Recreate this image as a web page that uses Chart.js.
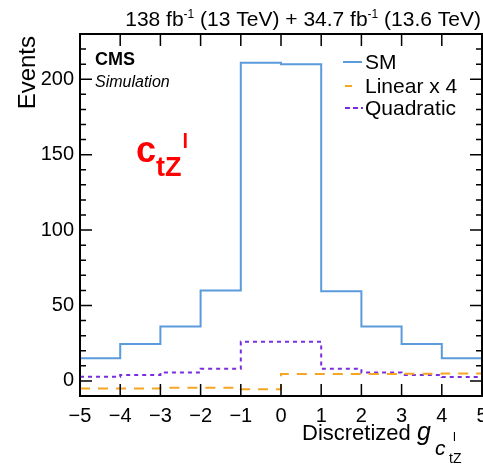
<!DOCTYPE html>
<html>
<head>
<meta charset="utf-8">
<script src="https://cdn.jsdelivr.net/npm/chart.js@4"></script>
<style>
  html, body { margin: 0; padding: 0; background: #fff; }
  #wrap { width: 483px; height: 464px; }
</style>
</head>
<body>
<div id="wrap"><canvas id="histCanvas" width="483" height="464"></canvas></div>
<script>
// bin edges of discretized g and per-bin event yields
var binEdges = [-5, -4, -3, -2, -1, 0, 1, 2, 3, 4, 5];
var smYields = [15, 24.5, 36, 60, 211, 210, 59.5, 36, 24.5, 15];
var linearYields = [-5, -5, -4.6, -4.6, -5.5, 4.6, 4.6, 4.6, 4.8, 5];
var quadYields = [2.8, 4, 5.5, 8, 26, 26, 8, 5.5, 4, 2.6];
var seriesNames = ['SM', 'Linear x 4', 'Quadratic'];
var yLabelTicks = [0, 50, 100, 150, 200];

var FONT = "'Liberation Sans', Arial, sans-serif";

// histogram -> step points at the left edges (last bin repeated at the right edge)
var toSteps = function(vals) {
  return binEdges.map(function(x, i) {
    return { x: x, y: vals[Math.min(i, vals.length - 1)] };
  });
};

var drawRich = function(ctx, parts, x, y, align) {
  var total = 0;
  parts.forEach(function(p) { ctx.font = p.font; total += ctx.measureText(p.t).width + (p.dx || 0); });
  var cx = align === 'right' ? x - total : x;
  ctx.textAlign = 'left';
  ctx.textBaseline = 'alphabetic';
  parts.forEach(function(p) {
    ctx.font = p.font;
    ctx.fillStyle = p.color || '#000';
    ctx.fillText(p.t, cx + (p.dx || 0), y + (p.dy || 0));
    cx += ctx.measureText(p.t).width + (p.dx || 0);
  });
};

var cmsDecor = {
  id: 'cmsDecor',
  afterDraw: function(chart) {
    var ctx = chart.ctx;
    var a = chart.chartArea;
    var xs = chart.scales.x, ys = chart.scales.y;
    ctx.save();

    // inward ticks on all four sides
    ctx.strokeStyle = '#000';
    ctx.lineWidth = 1.5;
    ys.ticks.forEach(function(t) {
      var py = ys.getPixelForValue(t.value);
      if (py <= a.top + 1 || py >= a.bottom - 1) return;
      var len = (t.value % 50 === 0) ? 12 : 6;
      ctx.beginPath();
      ctx.moveTo(a.left, py); ctx.lineTo(a.left + len, py);
      ctx.moveTo(a.right, py); ctx.lineTo(a.right - len, py);
      ctx.stroke();
    });
    xs.ticks.forEach(function(t) {
      var px = xs.getPixelForValue(t.value);
      if (px <= a.left + 1 || px >= a.right - 1) return;
      ctx.beginPath();
      ctx.moveTo(px, a.bottom); ctx.lineTo(px, a.bottom - 12);
      ctx.moveTo(px, a.top); ctx.lineTo(px, a.top + 12);
      ctx.stroke();
    });

    // frame
    ctx.lineWidth = 2;
    ctx.strokeRect(a.left, a.top, a.right - a.left, a.bottom - a.top);

    // header
    var hf = '21px ' + FONT, sf = '12px ' + FONT;
    drawRich(ctx, [
      { t: '138 fb', font: hf },
      { t: '-1', font: sf, dy: -8 },
      { t: ' (13 TeV) + 34.7 fb', font: hf },
      { t: '-1', font: sf, dy: -8 },
      { t: ' (13.6 TeV)', font: hf }
    ], 481, 26, 'right');

    // CMS label
    ctx.fillStyle = '#000';
    ctx.textAlign = 'left';
    ctx.font = 'bold 18px ' + FONT;
    ctx.fillText('CMS', 95, 65);
    ctx.font = 'italic 16px ' + FONT;
    ctx.fillText('Simulation', 95, 87);

    // red coupling label
    drawRich(ctx, [
      { t: 'c', font: 'bold 36px ' + FONT, color: '#ff0000' },
      { t: 'tZ', font: 'bold 27px ' + FONT, color: '#ff0000', dy: 14 },
      { t: 'l', font: 'bold 20px ' + FONT, color: '#ff0000', dy: -14, dx: 1 }
    ], 136, 162, 'left');

    // axis titles
    ctx.save();
    ctx.translate(35, 36);
    ctx.rotate(-Math.PI / 2);
    ctx.textAlign = 'right';
    ctx.font = '24px ' + FONT;
    ctx.fillStyle = '#000';
    ctx.fillText('Events', 0, 0);
    ctx.restore();

    ctx.fillStyle = '#000';
    ctx.textAlign = 'left';
    ctx.textBaseline = 'alphabetic';
    ctx.font = '22px ' + FONT;
    ctx.fillText('Discretized', 302, 440);
    ctx.font = 'italic 25px ' + FONT;
    ctx.fillText('g', 417, 440);
    ctx.font = 'italic 21px ' + FONT;
    ctx.fillText('c', 435, 455);
    ctx.font = '13px ' + FONT;
    ctx.fillText('l', 453, 441);
    ctx.font = '14px ' + FONT;
    ctx.fillText('tZ', 449, 463);

    // legend
    var rows = [62, 86, 108];
    chart.data.datasets.forEach(function(ds, i) {
      var y = rows[i];
      ctx.strokeStyle = ds.borderColor;
      ctx.lineWidth = 2;
      if (i === 0) { ctx.setLineDash([]); ctx.beginPath(); ctx.moveTo(343, y); ctx.lineTo(362, y); ctx.stroke(); }
      if (i === 1) { ctx.setLineDash([]); ctx.beginPath(); ctx.moveTo(345, y); ctx.lineTo(352, y); ctx.stroke(); }
      if (i === 2) { ctx.setLineDash([5, 3]); ctx.beginPath(); ctx.moveTo(345, y); ctx.lineTo(363, y); ctx.stroke(); }
      ctx.setLineDash([]);
      ctx.fillStyle = '#000';
      ctx.font = '21px ' + FONT;
      ctx.textAlign = 'left';
      ctx.textBaseline = 'middle';
      ctx.fillText(ds.label, 365, y + 1);
    });

    ctx.restore();
  }
};

var lineSet = function(label, vals, color, dash) {
  return {
    label: label,
    data: toSteps(vals),
    stepped: true,
    borderColor: color,
    borderWidth: 2,
    borderDash: dash,
    pointRadius: 0,
    fill: false
  };
};

new Chart(document.getElementById('histCanvas'), {
  type: 'line',
  data: {
    datasets: [
      lineSet(seriesNames[0], smYields, '#5b9bdc', []),
      lineSet(seriesNames[1], linearYields, '#f5a623', [10, 8]),
      lineSet(seriesNames[2], quadYields, '#7a2ddd', [4, 4])
    ]
  },
  options: {
    responsive: false,
    animation: false,
    layout: { padding: { top: 34, right: 1, left: 0, bottom: 0 } },
    plugins: { legend: { display: false }, tooltip: { enabled: false } },
    scales: {
      x: {
        type: 'linear',
        min: -5,
        max: 5,
        grid: { display: false, drawTicks: false },
        border: { display: false },
        ticks: {
          stepSize: 1,
          padding: 8,
          color: '#000',
          font: { family: FONT, size: 20 },
          maxRotation: 0,
          autoSkip: false,
          callback: function(v) { return v < 0 ? '\u2212' + Math.abs(v) : String(v); }
        },
        afterFit: function(scale) {
          scale.height = 68;
          scale.paddingLeft = 0;
          scale.paddingRight = 0;
        }
      },
      y: {
        type: 'linear',
        min: -10,
        max: 230,
        grid: { display: false, drawTicks: false },
        border: { display: false },
        ticks: {
          stepSize: 10,
          padding: 6,
          color: '#000',
          font: { family: FONT, size: 20 },
          autoSkip: false,
          callback: function(v) { return yLabelTicks.indexOf(v) >= 0 ? String(v) : ''; }
        },
        afterFit: function(scale) {
          scale.width = 80;
          scale.paddingTop = 0;
          scale.paddingBottom = 0;
        }
      }
    }
  },
  plugins: [cmsDecor]
});
</script>
</body>
</html>
